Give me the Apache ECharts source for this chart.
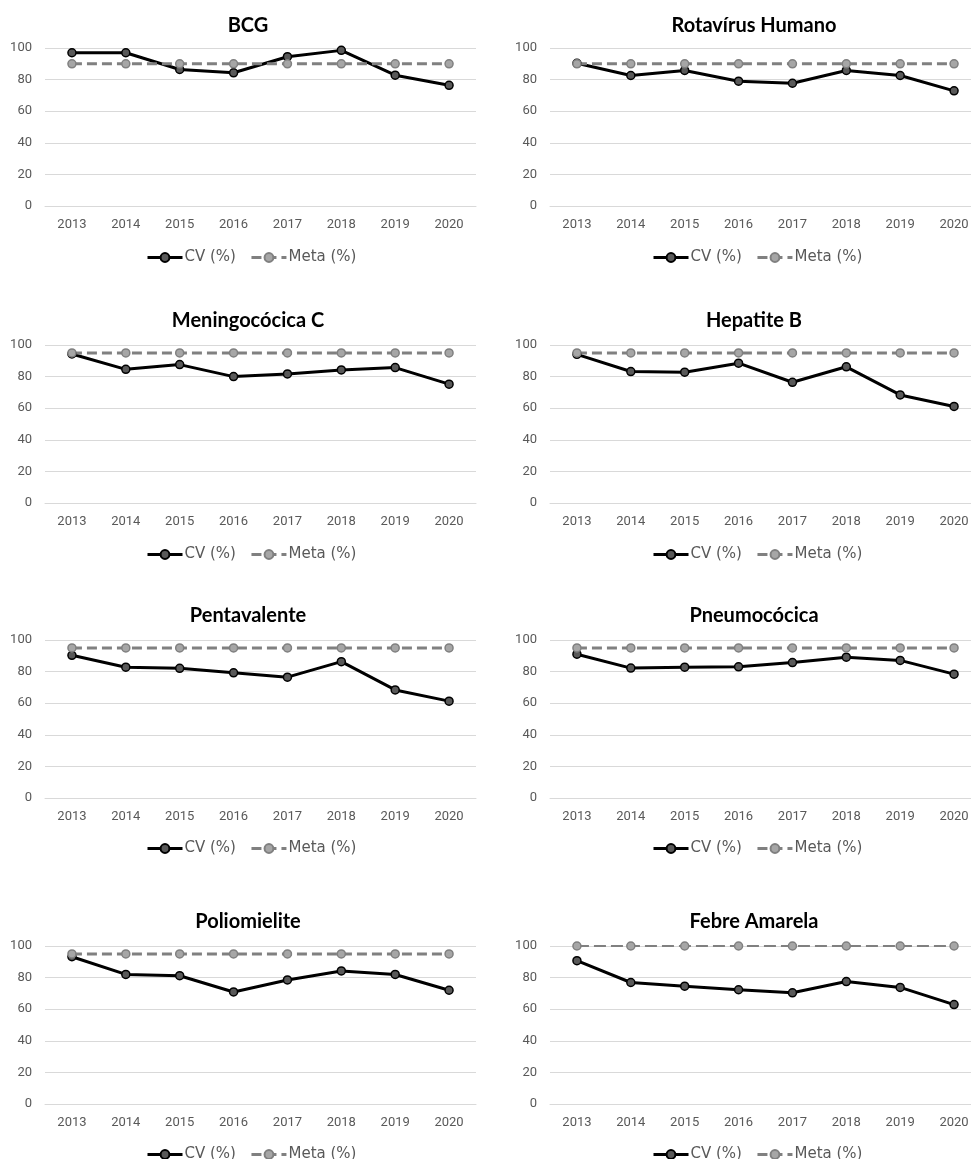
<!DOCTYPE html>
<html>
<head>
<meta charset="utf-8">
<script src="https://cdn.jsdelivr.net/npm/echarts@6/dist/echarts.min.js"></script>
<style>
  html, body { margin: 0; padding: 0; background: #fff; overflow: hidden; width: 971px; height: 1159px; }
  /* canvas is a bit wider than the page: the right-hand panels run past the edge */
  #main { width: 990px; height: 1159px; }
</style>
</head>
<body>
<div id="main"></div>
<script>
const years = ['2013', '2014', '2015', '2016', '2017', '2018', '2019', '2020'];
const yTicks = [0, 20, 40, 60, 80, 100];

const titles = ['BCG', 'Rotavírus Humano', 'Meningocócica C', 'Hepatite B',
  'Pentavalente', 'Pneumocócica', 'Poliomielite', 'Febre Amarela'];

// cobertura vacinal (%)
const cvBCG = [97, 97, 86.4, 84.3, 94.5, 98.5, 82.8, 76.4];
const cvRota = [90.3, 82.6, 85.8, 79, 77.7, 85.8, 82.6, 72.9];
const cvMeningo = [94.3, 84.6, 87.6, 80, 81.7, 84.2, 85.7, 75.2];
const cvHepB = [94.1, 83.2, 82.8, 88.5, 76.4, 86.2, 68.4, 61.1];
const cvPenta = [90.3, 82.8, 82.1, 79.2, 76.5, 86.3, 68.4, 61.3];
const cvPneumo = [91, 82.2, 82.8, 83, 85.7, 89.1, 87.1, 78.4];
const cvPolio = [93.2, 82, 81.2, 70.9, 78.5, 84.2, 82, 72];
const cvFebre = [90.7, 76.9, 74.6, 72.3, 70.4, 77.5, 73.8, 62.9];

// meta (%)
const metaBCG = [90, 90, 90, 90, 90, 90, 90, 90];
const metaRota = [90, 90, 90, 90, 90, 90, 90, 90];
const metaMeningo = [95, 95, 95, 95, 95, 95, 95, 95];
const metaHepB = [95, 95, 95, 95, 95, 95, 95, 95];
const metaPenta = [95, 95, 95, 95, 95, 95, 95, 95];
const metaPneumo = [95, 95, 95, 95, 95, 95, 95, 95];
const metaPolio = [95, 95, 95, 95, 95, 95, 95, 95];
const metaFebre = [100, 100, 100, 100, 100, 100, 100, 100];

const cvData = [cvBCG, cvRota, cvMeningo, cvHepB, cvPenta, cvPneumo, cvPolio, cvFebre];
const metaData = [metaBCG, metaRota, metaMeningo, metaHepB, metaPenta, metaPneumo, metaPolio, metaFebre];

const FONT = 'Roboto, "Open Sans", sans-serif';
const colLeft = [45, 550];
const titleX = [243, 749];
const legendX = [141, 647];
const rowTop = [48, 345, 640, 946];
const titleY = [23, 318, 613, 919];
const legendY = [255, 552, 846, 1152];
const plotW = 431, plotH = 158;

const grid = [], xAxis = [], yAxis = [], title = [], legend = [], series = [];

titles.forEach(function (name, i) {
  const col = i % 2, row = Math.floor(i / 2);
  grid.push({ left: colLeft[col], width: plotW, top: rowTop[row], height: plotH });
  xAxis.push({
    type: 'category', gridIndex: i, data: years, boundaryGap: true,
    axisLine: { lineStyle: { color: '#d9d9d9', width: 1 } },
    axisTick: { show: false },
    axisLabel: { color: '#595959', fontSize: 13, fontFamily: FONT, margin: 12 }
  });
  yAxis.push({
    type: 'value', gridIndex: i, min: yTicks[0], max: yTicks[yTicks.length - 1], interval: 20,
    axisLine: { show: false }, axisTick: { show: false },
    splitLine: { lineStyle: { color: '#d9d9d9', width: 1 } },
    axisLabel: { color: '#595959', fontSize: 13, fontFamily: FONT, margin: 13 }
  });
  title.push({
    text: name, left: titleX[col], top: titleY[row] - 12, textAlign: 'center',
    textStyle: { fontSize: 20, fontWeight: 'bold', color: '#000', fontFamily: 'Lato, sans-serif' }
  });
  legend.push({
    data: ['CV (%)', 'Meta (%)'], left: legendX[col], top: legendY[row] - 10,
    itemWidth: 35, itemHeight: 11, itemGap: 14,
    lineStyle: { width: 3 },
    textStyle: { color: '#595959', fontSize: 15, fontFamily: '"DejaVu Sans", sans-serif', padding: [0, 0, 0, -3] }
  });
  const thin = i === 7;
  series.push({
    name: 'CV (%)', type: 'line', xAxisIndex: i, yAxisIndex: i, data: cvData[i],
    symbol: 'circle', symbolSize: 8,
    lineStyle: { color: '#000', width: 3 },
    itemStyle: { color: '#595959', borderColor: '#000', borderWidth: 1.5 }
  });
  series.push({
    name: 'Meta (%)', type: 'line', xAxisIndex: i, yAxisIndex: i, data: metaData[i],
    symbol: 'circle', symbolSize: 8,
    lineStyle: { color: '#808080', width: thin ? 2 : 3, type: thin ? [12, 5] : [10, 5] },
    itemStyle: { color: '#a6a6a6', borderColor: '#808080', borderWidth: 1.5 }
  });
});

const chart = echarts.init(document.getElementById('main'));
chart.setOption({
  animation: false,
  title: title,
  legend: legend,
  grid: grid,
  xAxis: xAxis,
  yAxis: yAxis,
  series: series
});
</script>
</body>
</html>
